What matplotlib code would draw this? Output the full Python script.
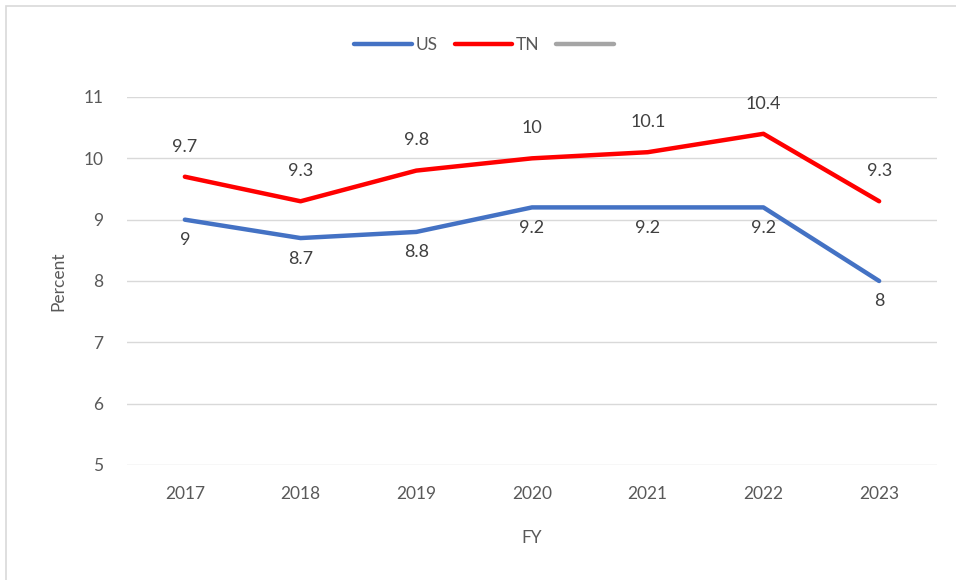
import matplotlib.pyplot as plt
from matplotlib.patches import Rectangle

years = ['2017', '2018', '2019', '2020', '2021', '2022', '2023']
us = [9, 8.7, 8.8, 9.2, 9.2, 9.2, 8]
tn = [9.7, 9.3, 9.8, 10, 10.1, 10.4, 9.3]

plt.rcParams['font.family'] = ['Lato', 'DejaVu Sans']
grey = '#595959'

fig = plt.figure(figsize=(9.56, 5.8), dpi=100)
# chart border (top and left visible only)
fig.patches.append(Rectangle((6 / 956, -0.1), 1.2, 1 - 6 / 580 + 0.1, transform=fig.transFigure,
                             fill=False, edgecolor='#d9d9d9', linewidth=1.2))
ax = fig.add_axes([127 / 956, 1 - 465 / 580, 810 / 956, 368 / 580])

x = list(range(len(years)))
l1, = ax.plot(x, us, color='#4472c4', linewidth=3.2, solid_capstyle='round', label='US')
l2, = ax.plot(x, tn, color='#ff0000', linewidth=3.2, solid_capstyle='round', label='TN')
l3, = ax.plot([], [], color='#a5a5a5', linewidth=3.2, solid_capstyle='round', label=' ')

for i, v in enumerate(us):
    ax.annotate('%g' % v, (i, v), xytext=(0, -9), textcoords='offset points',
                ha='center', va='top', fontsize=13, color='#404040')
for i, v in enumerate(tn):
    ax.annotate('%g' % v, (i, v), xytext=(0, 16), textcoords='offset points',
                ha='center', va='bottom', fontsize=13, color='#404040')

ax.set_xlim(-0.5, 6.5)
ax.set_ylim(5, 11)
ax.set_xticks(x)
ax.set_xticklabels(years)
ax.set_yticks(range(5, 12))
ax.tick_params(length=0, labelsize=12.5, labelcolor=grey)
ax.tick_params(axis='x', pad=15)
ax.tick_params(axis='y', pad=17)
ax.grid(axis='y', color='#d9d9d9', linewidth=1)
ax.set_axisbelow(True)
for s in ax.spines.values():
    s.set_visible(False)

ax.set_ylabel('Percent', fontsize=12.5, color=grey, labelpad=12)
ax.set_xlabel('FY', fontsize=12.5, color=grey, labelpad=20)

fig.legend(handles=[l1, l2, l3], loc='center', bbox_to_anchor=(488 / 956, 1 - 45 / 580),
           ncol=3, frameon=False, fontsize=12.5, labelcolor=grey, handlelength=3.3,
           handletextpad=0.2, columnspacing=1.0)

fig.savefig('out.png', dpi=100, facecolor='white')
